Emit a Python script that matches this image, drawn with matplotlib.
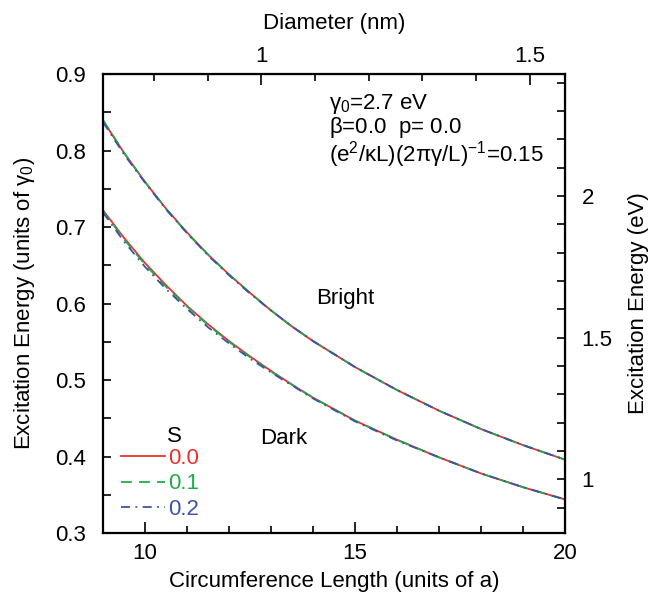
import numpy as np
import matplotlib
matplotlib.use("Agg")
import matplotlib.pyplot as plt
from matplotlib.ticker import MultipleLocator, FixedLocator

plt.rcParams["font.family"] = ["Liberation Sans", "DejaVu Sans"]
plt.rcParams["mathtext.fontset"] = "custom"
plt.rcParams["mathtext.rm"] = "Liberation Sans"
plt.rcParams["mathtext.it"] = "Liberation Sans"

# circumference length (units of a)
L = [9, 9.5, 10, 10.5, 11, 11.5, 12, 12.5, 13, 13.5, 14, 15, 16, 17, 18, 19, 20]

# bright exciton energy (units of gamma0) for S = 0.0, 0.1, 0.2
bright_s0 = [0.839, 0.797, 0.759, 0.724, 0.693, 0.664, 0.638, 0.614, 0.591, 0.570, 0.551,
             0.517, 0.487, 0.460, 0.436, 0.415, 0.396]
bright_s1 = [0.840, 0.797, 0.759, 0.724, 0.692, 0.664, 0.638, 0.614, 0.591, 0.570, 0.551,
             0.517, 0.487, 0.460, 0.436, 0.415, 0.396]
bright_s2 = [0.837, 0.795, 0.758, 0.723, 0.692, 0.663, 0.637, 0.613, 0.591, 0.570, 0.551,
             0.517, 0.487, 0.460, 0.436, 0.415, 0.396]

# dark exciton energy (units of gamma0)
dark_s0 = [0.722, 0.686, 0.653, 0.624, 0.597, 0.573, 0.551, 0.531, 0.512, 0.494, 0.477,
           0.447, 0.422, 0.399, 0.378, 0.360, 0.344]
dark_s1 = [0.721, 0.684, 0.651, 0.622, 0.596, 0.572, 0.550, 0.530, 0.511, 0.494, 0.477,
           0.447, 0.422, 0.399, 0.378, 0.360, 0.344]
dark_s2 = [0.719, 0.681, 0.648, 0.619, 0.593, 0.569, 0.548, 0.528, 0.510, 0.493, 0.476,
           0.446, 0.421, 0.399, 0.378, 0.360, 0.344]

s_labels = ["0.0", "0.1", "0.2"]
colors = ["#e8312f", "#1faa4b", "#3b55a3"]
styles = ["-", (0, (6, 4)), (0, (5, 3, 1, 3))]

gamma0 = 2.7      # eV
a_nm = 0.246      # lattice constant (nm)

fig = plt.figure(figsize=(6.5, 5.97), dpi=100)
ax = fig.add_axes([0.1585, 0.107, 0.7108, 0.769])

series = [(bright_s0, dark_s0), (bright_s1, dark_s1), (bright_s2, dark_s2)]
for (b, d), c, ls, lab in zip(series, colors, styles, s_labels):
    ax.plot(L, b, color=c, ls=ls, lw=1.3, label=lab)
    ax.plot(L, d, color=c, ls=ls, lw=1.3)

ax.set_xlim(9, 20)
ax.set_ylim(0.3, 0.9)
ax.xaxis.set_major_locator(FixedLocator([10, 15, 20]))
ax.xaxis.set_minor_locator(MultipleLocator(1))
ax.yaxis.set_major_locator(MultipleLocator(0.1))
ax.yaxis.set_minor_locator(MultipleLocator(0.05))
ax.set_yticklabels([f"{v:.1f}" for v in ax.get_yticks()])

fs = 16
ax.tick_params(which="both", direction="in", labelsize=fs, width=1.2)
ax.tick_params(axis="x", which="major", length=8, pad=7)
ax.tick_params(axis="x", which="minor", length=5)
ax.tick_params(axis="y", which="both", length=6, pad=12)
for sp in ax.spines.values():
    sp.set_linewidth(1.6)

ax.set_xlabel("Circumference Length (units of a)", fontsize=fs, labelpad=5)
ax.set_ylabel("Excitation Energy (units of $\\gamma_0$)", fontsize=fs, labelpad=13)

# diameter axis on top
top = ax.secondary_xaxis("top", functions=(lambda x: x * a_nm / np.pi,
                                           lambda d: d * np.pi / a_nm))
top.xaxis.set_major_locator(FixedLocator([1.0, 1.5]))
top.xaxis.set_minor_locator(MultipleLocator(0.1))
top.set_xticklabels(["1", "1.5"])
top.tick_params(which="both", direction="in", labelsize=fs, width=1.2, pad=5)
top.tick_params(which="major", length=8)
top.tick_params(which="minor", length=5)
top.set_xlabel("Diameter (nm)", fontsize=fs, labelpad=12)

# energy axis in eV on the right
right = ax.secondary_yaxis("right", functions=(lambda e: e * gamma0,
                                               lambda ev: ev / gamma0))
right.yaxis.set_major_locator(FixedLocator([1.0, 1.5, 2.0]))
right.yaxis.set_minor_locator(MultipleLocator(0.1))
right.set_yticklabels(["1", "1.5", "2"])
right.tick_params(which="both", direction="in", labelsize=fs, width=1.2, length=6, pad=12)
right.set_ylabel("Excitation Energy (eV)", fontsize=fs, labelpad=11)

ax.text(0.49, 0.96, "$\\gamma_0$=2.7 eV\n$\\beta$=0.0  p= 0.0\n(e$^2$/$\\kappa$L)(2$\\pi\\gamma$/L)$^{-1}$=0.15",
        transform=ax.transAxes, fontsize=fs, va="top", ha="left", linespacing=0.95)
ax.text(14.76, 0.607, "Bright", fontsize=fs, ha="center", va="center")
ax.text(13.3, 0.424, "Dark", fontsize=fs, ha="center", va="center")

leg = ax.legend(loc="lower left", bbox_to_anchor=(0.01, 0.0), frameon=False,
                fontsize=fs, labelcolor="linecolor", handlelength=2.0,
                handletextpad=0.1, labelspacing=0.2, borderaxespad=0.2)
ax.text(0.155, 0.21, "S", transform=ax.transAxes, fontsize=fs, ha="center", va="center")

fig.savefig("out.png", dpi=100)
